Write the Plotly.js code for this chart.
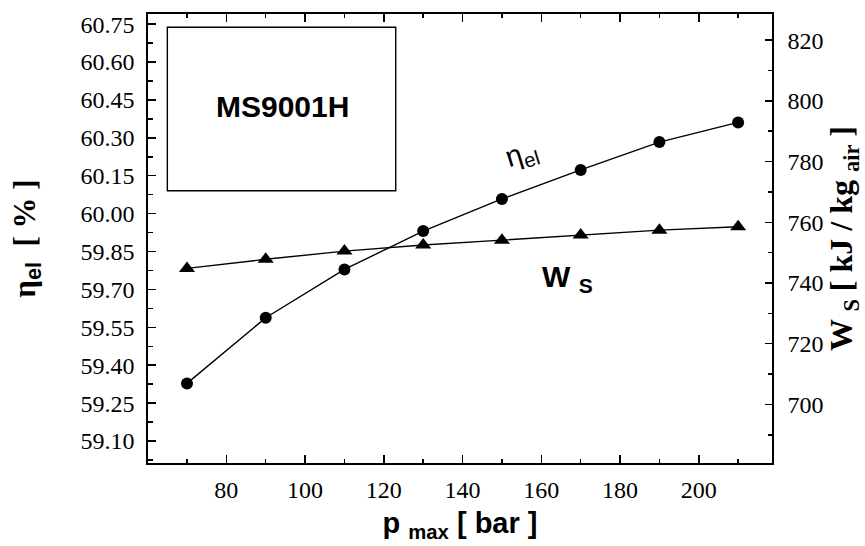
<!DOCTYPE html>
<html>
<head>
<meta charset="utf-8">
<script src="https://cdn.plot.ly/plotly-3.0.1.min.js"></script>
<style>html,body{margin:0;padding:0;background:#fff;}</style>
</head>
<body>
<div id="chart" style="width:865px;height:546px;"></div>
<script>
// Data
const pressureBar = [70, 90, 110, 130, 150, 170, 190, 210];
const etaElPercent = [59.328, 59.588, 59.779, 59.931, 60.058, 60.173, 60.283, 60.361];
const specificWorkKJkg = [744.8, 747.8, 750.5, 752.5, 754.1, 755.8, 757.4, 758.5];

const SERIF = 'Liberation Serif';
const SANS = 'Liberation Sans';
const NB = '\u00a0';

const traces = [
  {
    x: pressureBar, y: etaElPercent, type: 'scatter', mode: 'lines+markers',
    name: 'η_el', yaxis: 'y',
    line: {color: '#000', width: 1.4},
    marker: {symbol: 'circle', size: 12, color: '#000'}
  },
  {
    x: pressureBar, y: specificWorkKJkg, type: 'scatter', mode: 'lines+markers',
    name: 'W_S', yaxis: 'y2',
    line: {color: '#000', width: 1.4},
    marker: {symbol: 'triangle-up', size: 14, color: '#000'}
  }
];

const layout = {
  width: 865, height: 546,
  margin: {l: 148, r: 93, t: 14, b: 83, pad: 0},
  paper_bgcolor: '#fff', plot_bgcolor: '#fff',
  font: {family: SERIF, size: 23, color: '#000'},
  showlegend: false,
  xaxis: {
    range: [60.1, 218.6],
    tick0: 80, dtick: 20,
    ticks: 'inside', ticklen: 8, tickwidth: 1.5, tickcolor: '#000',
    minor: {dtick: 10, tick0: 0, ticks: 'inside', ticklen: 4, tickwidth: 1.5, tickcolor: '#000'},
    showline: true, linecolor: '#000', linewidth: 1.6, mirror: 'ticks',
    showgrid: false, zeroline: false,
    tickfont: {family: SERIF, size: 24, color: '#000'}, ticklabelstandoff: 5,
    title: {
      text: 'p <sub>max</sub> [ bar ]',
      font: {family: SANS, size: 29, color: '#000', weight: 'bold'},
      standoff: 10
    }
  },
  yaxis: {
    range: [59.013, 60.790],
    tick0: 59.10, dtick: 0.15, tickformat: '.2f',
    ticks: 'inside', ticklen: 8, tickwidth: 1.5, tickcolor: '#000',
    minor: {dtick: 0.075, tick0: 59.025, ticks: 'inside', ticklen: 5, tickwidth: 1.5, tickcolor: '#000'},
    showline: true, linecolor: '#000', linewidth: 1.6,
    showgrid: false, zeroline: false,
    tickfont: {family: SERIF, size: 24, color: '#000'}, ticklabelstandoff: 7,
    title: {
      text: 'η<span style="font-family:Liberation Sans"><sub>el</sub></span>  [ % ]' + NB + NB + NB,
      font: {family: SERIF, size: 31, color: '#000', weight: 'bold'},
      standoff: 36
    }
  },
  yaxis2: {
    overlaying: 'y', side: 'right',
    range: [680.7, 828.6],
    tick0: 700, dtick: 20,
    ticks: 'inside', ticklen: 7, tickwidth: 1.5, tickcolor: '#000',
    minor: {dtick: 10, tick0: 0, ticks: 'inside', ticklen: 4, tickwidth: 1.5, tickcolor: '#000'},
    showline: true, linecolor: '#000', linewidth: 1.6,
    showgrid: false, zeroline: false,
    tickfont: {family: SERIF, size: 24, color: '#000'},
    ticklabelstandoff: 9,
    title: {
      text: NB + NB + NB + NB + 'W <sub>S</sub> [ kJ / kg <sub>air</sub> ]',
      font: {family: SERIF, size: 32, color: '#000', weight: 'bold'},
      standoff: 4
    }
  },
  shapes: [
    {type: 'rect', xref: 'paper', yref: 'paper', x0: 0.031, x1: 0.397, y0: 0.6065, y1: 0.9704,
     line: {color: '#000', width: 1.4}, fillcolor: 'rgba(0,0,0,0)'}
  ],
  annotations: [
    {xref: 'paper', yref: 'paper', x: 0.2163, y: 0.795, xanchor: 'center', yanchor: 'middle',
     text: 'MS9001H', showarrow: false,
     font: {family: SANS, size: 30, color: '#000', weight: 'bold'}},
    {xref: 'paper', yref: 'paper', x: 0.599, y: 0.686, xanchor: 'center', yanchor: 'middle',
     text: 'η<sub>el</sub>', showarrow: false, textangle: -17,
     font: {family: SANS, size: 29, color: '#000'}},
    {xref: 'paper', yref: 'paper', x: 0.673, y: 0.412, xanchor: 'center', yanchor: 'middle',
     text: 'W <sub>S</sub>', showarrow: false,
     font: {family: SANS, size: 30, color: '#000', weight: 'bold'}}
  ]
};

Plotly.newPlot('chart', traces, layout, {displayModeBar: false, staticPlot: true});
</script>
</body>
</html>
